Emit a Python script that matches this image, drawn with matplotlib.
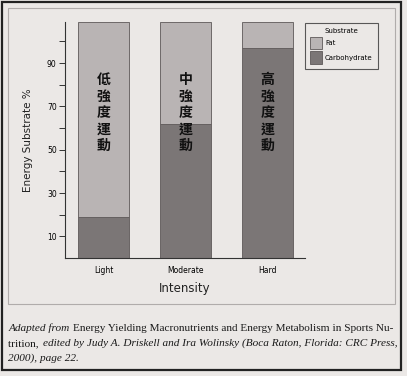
import matplotlib
matplotlib.use("Agg")
import matplotlib.pyplot as plt
from matplotlib.patches import Rectangle

# values (axis units)
intensity = ["Light", "Moderate", "Hard"]
carbohydrate = [19, 62, 97]
fat = [90, 47, 12]
labels_zh = ["低強度運動", "中強度運動", "高強度運動"]

paper = "#ebe8e6"
fat_color = "#b9b4b4"
carb_color = "#7b7676"
edge = "#5e5959"

fig = plt.figure(figsize=(4.07, 3.76), dpi=100, facecolor=paper)

# page frame and the thin box round the chart
fig.patches.append(Rectangle((0.004, 0.016), 0.982, 0.978, transform=fig.transFigure,
                             fill=False, edgecolor="#222222", lw=1.6))
fig.patches.append(Rectangle((0.020, 0.192), 0.950, 0.786, transform=fig.transFigure,
                             fill=False, edgecolor="#b0acab", lw=0.8))

ax = fig.add_axes([0.1597, 0.3138, 0.5897, 0.6277])
ax.set_facecolor(paper)

x = range(len(intensity))
ax.bar(x, carbohydrate, width=0.62, color=carb_color, edgecolor=edge, lw=0.6,
       label="Carbohydrate")
ax.bar(x, fat, width=0.62, bottom=carbohydrate, color=fat_color, edgecolor=edge,
       lw=0.6, label="Fat")

for i, s in enumerate(labels_zh):
    ax.text(i, 67, "\n".join(s), ha="center", va="center", fontsize=10,
            linespacing=1.22, fontweight="bold", color="#111111",
            family=["Noto Sans CJK TC", "DejaVu Sans"])

ax.set_xlim(-0.47, 2.46)
ax.set_ylim(0, 109)
ax.set_yticks([10, 30, 50, 70, 90])
ax.set_yticks([20, 40, 60, 80, 100], minor=True)
ax.set_xticks(list(x))
ax.set_xticklabels(intensity)
ax.tick_params(axis="y", which="both", length=4, width=0.7, color="#333333",
               labelsize=5.5, pad=2)
ax.tick_params(axis="x", length=0, labelsize=5.5, pad=6)
for sp in ["top", "right"]:
    ax.spines[sp].set_visible(False)
for sp in ["left", "bottom"]:
    ax.spines[sp].set_color("#333333")
    ax.spines[sp].set_linewidth(0.8)

ax.set_xlabel("Intensity", fontsize=8.5, labelpad=5, color="#222222")
ax.set_ylabel("Energy Substrate %", fontsize=7.5, labelpad=10, color="#222222")

h, l = ax.get_legend_handles_labels()
leg = fig.legend(h[::-1], l[::-1], title="Substrate", loc="upper left",
                 bbox_to_anchor=(0.749, 0.939), borderaxespad=0, fontsize=5,
                 title_fontsize=5, frameon=True, fancybox=False,
                 edgecolor="#333333", facecolor=paper, handlelength=1.7,
                 handleheight=2.4, handletextpad=0.4, borderpad=0.8,
                 labelspacing=0.3)
leg.get_frame().set_linewidth(0.8)

# caption, mixing italic and upright runs
renderer = fig.canvas.get_renderer()
lines = [
    [("Adapted from ", "italic"),
     ("Energy Yielding Macronutrients and Energy Metabolism in Sports Nu-", "normal")],
    [("trition, ", "normal"),
     ("edited by Judy A. Driskell and Ira Wolinsky (Boca Raton, Florida: CRC Press,", "italic")],
    [("2000), page 22.", "italic")],
]
ys = [0.121, 0.080, 0.040]
for runs, y in zip(lines, ys):
    xpos = 0.020
    for txt, style in runs:
        t = fig.text(xpos, y, txt, fontsize=8.1, style=style, family="Liberation Serif",
                     color="#1a1a1a", va="baseline")
        bb = t.get_window_extent(renderer)
        xpos = (bb.x1 + 1) / fig.bbox.width

fig.savefig("out.png", dpi=100, facecolor=paper)
